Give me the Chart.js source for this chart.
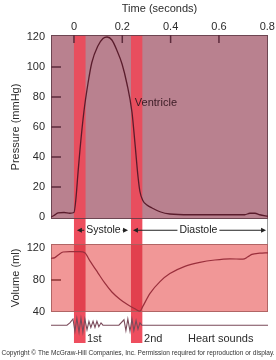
<!DOCTYPE html>
<html><head><meta charset="utf-8">
<script src="https://cdn.jsdelivr.net/npm/chart.js@4/dist/chart.umd.min.js"></script>
<style>html,body{margin:0;padding:0;background:#fff;}#wrap{width:276px;height:360px;position:relative;}</style>
</head><body><div id="wrap"><canvas id="c" width="276" height="360"></canvas></div>
<script>
// ---- data ----
const timeTicks = [0, 0.2, 0.4, 0.6, 0.8];
const timeMarks = [0, 0.2, 0.4, 0.6];
const pressureTicks = [0, 20, 40, 60, 80, 100, 120];
const pressureMarks = [20, 40, 60, 80, 100];
const volumeTicks = [40, 80, 120];
const volumeMarks = [80];
const bandStart = [0.0, 0.236];
const bandEnd = [0.048, 0.283];

const pTime = [-0.095,-0.083,-0.066,-0.041,-0.017,0.000,0.008,0.017,0.025,0.041,0.058,0.074,0.099,0.120,0.137,0.157,0.178,0.199,0.219,0.240,0.252,0.265,0.273,0.285,0.302,0.323,0.356,0.397,0.480,0.645,0.707,0.728,0.749,0.769,0.803];
const pValue = [0,1,2.7,3,2.5,3,12,30,45,70,89,103,114,119,120,118,111,102,89,70,50,27,17,11,8,6,3.5,2,1.5,1.5,1.5,2.5,2.5,1.5,0.5];

const vTime = [-0.095,-0.079,-0.062,-0.045,-0.017,0.025,0.045,0.066,0.099,0.128,0.157,0.190,0.223,0.252,0.273,0.285,0.314,0.356,0.397,0.459,0.521,0.583,0.645,0.699,0.720,0.736,0.769,0.803];
const vValue = [107,108,112,115,115.5,115.5,114,104,89,76,65,56,49,44,41,47,63,78,88,97,102,105,106.5,106,109,112,113.5,114];

const hTime = [-0.095,-0.029,-0.017,-0.004,0.004,0.012,0.021,0.029,0.037,0.045,0.054,0.062,0.070,0.079,0.087,0.095,0.103,0.112,0.120,0.186,0.207,0.215,0.223,0.232,0.240,0.248,0.257,0.265,0.273,0.281,0.803];
const hValue = [0,0,1.5,4,-4,4.5,-4.5,4.5,-4.5,4,-3,2.5,-1.5,2.5,-1.5,2.5,-1,1.5,0,0,3.5,-3.5,4,-4,4,-3.5,3,-2.5,1.5,0,0];

// ---- chart ----
const FONT = '"Liberation Sans", Arial, Helvetica, sans-serif';
const TXT = '#2b2b2b';
const zip = (a, b) => a.map((t, i) => ({x: t, y: b[i]}));
const setTicks = arr => s => { s.ticks = arr.map(v => ({value: v})); };

function line(ctx, x0, y0, x1, y1) { ctx.beginPath(); ctx.moveTo(x0, y0); ctx.lineTo(x1, y1); ctx.stroke(); }
function head(ctx, tipX, y, dir) {
  ctx.beginPath(); ctx.moveTo(tipX, y); ctx.lineTo(tipX - dir * 5, y - 2.5); ctx.lineTo(tipX - dir * 5, y + 2.5); ctx.closePath(); ctx.fill();
}
function arrowLabel(ctx, xs, x0, x1, y, text, tc) {
  const a = xs.getPixelForValue(x0), b = xs.getPixelForValue(x1), c = xs.getPixelForValue(tc);
  const w = ctx.measureText(text).width;
  ctx.fillText(text, c, y);
  line(ctx, a + 4, y, c - w / 2 - 2, y);
  line(ctx, c + w / 2 + 2, y, b - 4, y);
  head(ctx, a, y, -1); head(ctx, b, y, 1);
}

const panels = {
  id: 'panels',
  beforeDatasetsDraw(chart) {
    const {ctx, chartArea: ca, scales} = chart;
    const {x, yP, yG, yV, yH} = scales;
    const L = ca.left, W = ca.right - ca.left;
    ctx.save();
    ctx.fillStyle = '#B9818F'; ctx.fillRect(L, yP.top, W, yP.bottom - yP.top);
    ctx.fillStyle = '#F19797'; ctx.fillRect(L, yV.top, W, yV.bottom - yV.top);
    bandStart.forEach((s, i) => {
      const x0 = x.getPixelForValue(s), x1 = x.getPixelForValue(bandEnd[i]);
      [[yP, '#E84E5E'], [yG, '#EE4E5E'], [yV, '#E2404E'], [yH, '#EE4E5E']].forEach(([sc, col]) => {
        ctx.fillStyle = col; ctx.fillRect(x0, sc.top, x1 - x0, sc.bottom - sc.top);
      });
    });
    ctx.lineWidth = 1;
    ctx.strokeStyle = 'rgba(95,60,72,0.85)';
    ctx.strokeRect(L + 0.5, yP.top + 0.5, W - 1, yP.bottom - yP.top - 1);
    ctx.strokeStyle = 'rgba(170,95,95,0.9)';
    ctx.strokeRect(L + 0.5, yV.top + 0.5, W - 1, yV.bottom - yV.top - 1);
    ctx.strokeStyle = '#9a9a9a';
    line(ctx, ca.right - 0.5, yG.top, ca.right - 0.5, yG.bottom);
    ctx.lineWidth = 1.5;
    ctx.strokeStyle = '#5b2b3b';
    timeMarks.forEach(t => { const px = x.getPixelForValue(t); line(ctx, px, yP.top, px, yP.top + 8); });
    pressureMarks.forEach(v => { const py = yP.getPixelForValue(v); line(ctx, L, py, L + 10, py); });
    ctx.strokeStyle = '#8b3434';
    volumeMarks.forEach(v => { const py = yV.getPixelForValue(v); line(ctx, L, py, L + 10, py); });
    ctx.restore();
  },
  afterDatasetsDraw(chart) {
    const {ctx, scales} = chart;
    const {x, yP, yG, yH} = scales;
    ctx.save();
    ctx.fillStyle = '#3a1a24';
    ctx.font = '11px ' + FONT;
    ctx.textBaseline = 'middle';
    ctx.textAlign = 'left';
    ctx.fillText('Ventricle', x.getPixelForValue(0.252), yP.getPixelForValue(76));
    ctx.fillStyle = TXT;
    ctx.fillText('1st', x.getPixelForValue(0.054), yH.getPixelForValue(-8.9));
    ctx.fillText('2nd', x.getPixelForValue(0.29), yH.getPixelForValue(-8.9));
    ctx.fillText('Heart sounds', x.getPixelForValue(0.472), yH.getPixelForValue(-8.9));
    ctx.textAlign = 'center';
    ctx.font = '10.5px ' + FONT;
    ctx.strokeStyle = '#222'; ctx.fillStyle = '#222'; ctx.lineWidth = 1;
    const gy = yG.getPixelForValue(0.55);
    arrowLabel(ctx, x, 0.012, 0.224, gy, 'Systole', 0.122);
    arrowLabel(ctx, x, 0.244, 0.795, gy, 'Diastole', 0.515);
    ctx.restore();
  },
  afterDraw(chart) {
    const ctx = chart.ctx;
    ctx.save();
    ctx.fillStyle = '#333';
    ctx.font = '6.6px ' + FONT;
    ctx.textAlign = 'center'; ctx.textBaseline = 'middle';
    ctx.fillText('Copyright \u00A9 The McGraw-Hill Companies, Inc. Permission required for reproduction or display.', 138, 353, 273);
    ctx.restore();
  }
};

const yCommon = {
  type: 'linear', position: 'left', stack: 'main',
  grid: {display: false, drawTicks: false}, border: {display: false},
  afterFit: s => { s.width = 51; }
};

new Chart(document.getElementById('c'), {
  type: 'line',
  data: {
    datasets: [
      {label: 'Ventricle pressure', data: zip(pTime, pValue), xAxisID: 'x', yAxisID: 'yP', borderColor: '#5a1c2c', borderWidth: 1.3, pointRadius: 0, cubicInterpolationMode: 'monotone', fill: false},
      {label: 'Ventricular volume', data: zip(vTime, vValue), xAxisID: 'x', yAxisID: 'yV', borderColor: '#9a2f3c', borderWidth: 1.2, pointRadius: 0, cubicInterpolationMode: 'monotone', fill: false},
      {label: 'Heart sounds', data: zip(hTime, hValue), xAxisID: 'x', yAxisID: 'yH', borderColor: '#7a4a5a', borderWidth: 1.1, pointRadius: 0, tension: 0, fill: false}
    ]
  },
  options: {
    responsive: false, animation: false, devicePixelRatio: 1,
    layout: {padding: {top: 0, left: 0, right: 8, bottom: 17}},
    plugins: {legend: {display: false}, tooltip: {enabled: false}},
    scales: {
      x: {
        type: 'linear', position: 'top', min: -0.095, max: 0.803,
        afterBuildTicks: setTicks(timeTicks),
        afterFit: s => { s.height = 35; },
        grid: {display: false, drawTicks: false}, border: {display: false},
        ticks: {padding: 1, color: TXT, font: {size: 11, family: FONT}, maxRotation: 0},
        title: {display: true, text: 'Time (seconds)', color: TXT, font: {size: 11, family: FONT}, padding: {top: 2, bottom: 2}}
      },
      yP: Object.assign({}, yCommon, {
        weight: 4, stackWeight: 184, min: -1.333, max: 121.333,
        afterBuildTicks: setTicks(pressureTicks),
        ticks: {padding: 6, color: TXT, font: {size: 11, family: FONT}},
        title: {display: true, text: 'Pressure (mmHg)', color: TXT, font: {size: 11, family: FONT}, padding: {top: 9, bottom: 0}}
      }),
      yG: Object.assign({}, yCommon, {
        weight: 3, stackWeight: 25, min: 0, max: 1,
        ticks: {display: false}
      }),
      yV: Object.assign({}, yCommon, {
        weight: 2, stackWeight: 68, min: 40, max: 125,
        afterBuildTicks: setTicks(volumeTicks),
        ticks: {padding: 6, color: TXT, font: {size: 11, family: FONT}},
        title: {display: true, text: 'Volume (ml)', color: TXT, font: {size: 11, family: FONT}, padding: {top: 9, bottom: 0}}
      }),
      yH: Object.assign({}, yCommon, {
        weight: 1, stackWeight: 31, min: -11.5, max: 8.5,
        ticks: {display: false}
      })
    }
  },
  plugins: [panels]
});
</script></body></html>
